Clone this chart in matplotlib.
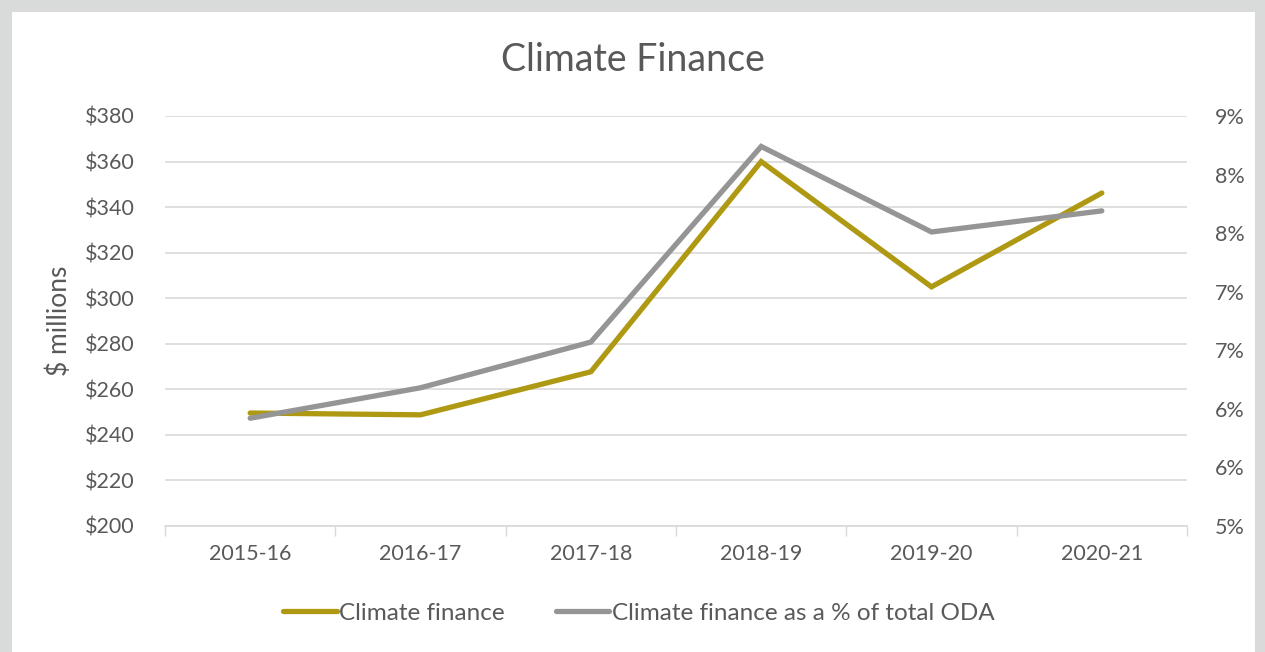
import numpy as np
import matplotlib.pyplot as plt
from matplotlib.patches import Rectangle
from matplotlib.ticker import FuncFormatter, FixedLocator

years = ['2015-16', '2016-17', '2017-18', '2018-19', '2019-20', '2020-21']
climate_finance = [249.6, 248.8, 267.7, 360.0, 305.0, 346.2]      # $ millions
pct_of_oda = [5.92, 6.18, 6.57, 8.24, 7.51, 7.69]                  # % of total ODA

gold = '#AF9912'
grey = '#959595'
txt = '#595959'

plt.rcParams['font.family'] = ['Lato', 'DejaVu Sans']

fig = plt.figure(figsize=(12.65, 6.52), dpi=100)
# shadowed chart box
fig.patches.append(Rectangle((0, 0), 1, 1, transform=fig.transFigure,
                             facecolor='#D9DADA', edgecolor='none', zorder=-10))
fig.patches.append(Rectangle((12/1265, 0), 1243/1265, 640/652, transform=fig.transFigure,
                             facecolor='white', edgecolor='none', zorder=-9))

ax = fig.add_axes([165/1265, 1 - 526/652, 1022/1265, 410/652])
ax2 = ax.twinx()
x = np.arange(len(years))

ax.plot(x, climate_finance, color=gold, lw=3.8, solid_capstyle='round',
        solid_joinstyle='miter', label='Climate finance', zorder=3)
ax2.plot(x, pct_of_oda, color=grey, lw=3.8, solid_capstyle='round',
         solid_joinstyle='miter', label='Climate finance as a % of total ODA', zorder=2)

ax.set_xlim(-0.5, len(years) - 0.5)
ax.set_ylim(200, 380)
ax.set_yticks(np.arange(200, 381, 20))
ax.yaxis.set_major_formatter(FuncFormatter(lambda v, p: f'${v:.0f}'))
ax2.set_ylim(5.0, 8.5)
ax2.set_yticks(np.arange(5.0, 8.51, 0.5))
ax2.yaxis.set_major_formatter(FuncFormatter(lambda v, p: f'{int(v + 0.5)}%'))

ax.set_xticks(x)
ax.set_xticklabels(years)
ax.xaxis.set_minor_locator(FixedLocator(np.arange(-0.5, len(years), 1)))
ax.tick_params(axis='x', which='major', length=0, pad=13, labelsize=15.5, colors=txt)
ax.tick_params(axis='x', which='minor', length=7, width=1, color='#D9D9D9')
ax.tick_params(axis='y', length=0, pad=22, labelsize=15.5, colors=txt)
ax2.tick_params(axis='y', length=0, pad=20, labelsize=15.5, colors=txt)

ax.grid(axis='y', color='#D9D9D9', lw=1.2)
ax.set_axisbelow(True)
for a in (ax, ax2):
    for s in a.spines.values():
        s.set_visible(False)
ax.spines['bottom'].set_visible(True)
ax.spines['bottom'].set_color('#D9D9D9')
ax.spines['bottom'].set_linewidth(1.2)

ax.set_ylabel('$ millions', fontsize=19, color=txt, labelpad=9)
fig.text(0.5, 1 - 60/652, 'Climate Finance', ha='center', va='center',
         fontsize=27, color=txt)

h1, l1 = ax.get_legend_handles_labels()
h2, l2 = ax2.get_legend_handles_labels()
fig.legend(h1 + h2, l1 + l2, loc='center', bbox_to_anchor=(0.505, 1 - 613/652),
           ncol=2, frameon=False, fontsize=17.5, labelcolor=txt,
           handlelength=2.2, handletextpad=0.1, columnspacing=2.1)

fig.savefig('out.png', dpi=100)
